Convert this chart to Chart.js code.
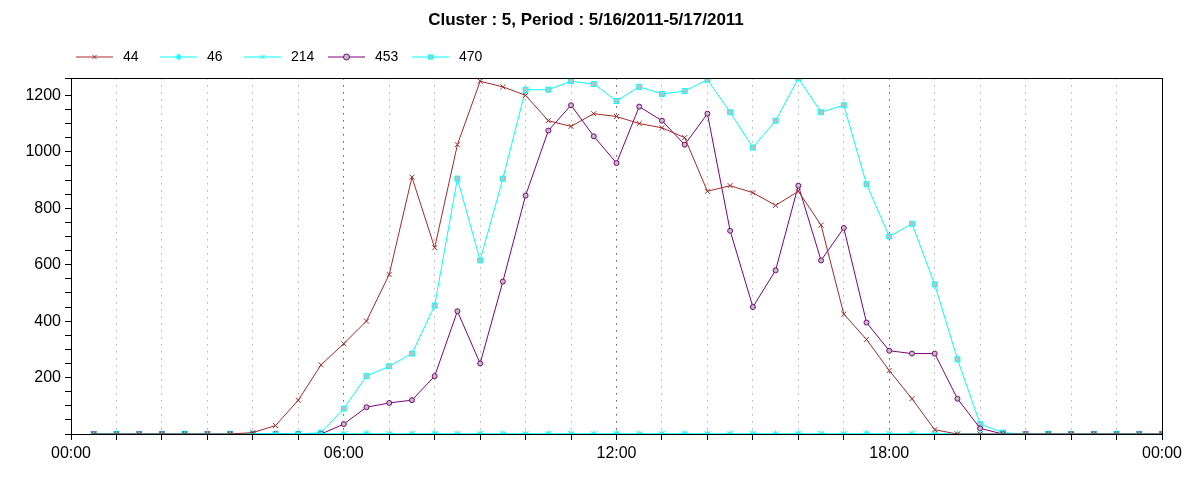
<!DOCTYPE html>
<html><head><meta charset="utf-8">
<script src="https://cdn.jsdelivr.net/npm/chart.js@4"></script>
<style>html,body{margin:0;background:#fff}#w{width:1200px;height:480px}</style>
</head><body><div id="w"><canvas id="c"></canvas></div>
<script>
const times = [];
for (let i = 1; i <= 48; i++) times.push(i * 0.5);
const s44  = [0,0,0,0,0,0,0,5,30,120,245,320,400,565,910,660,1025,1250,1230,1200,1110,1090,1135,1125,1100,1085,1050,860,880,855,810,860,740,425,335,225,125,15,0,0,0,0,0,0,0,0,0,0];
const s46  = new Array(48).fill(0);
const s214 = new Array(48).fill(0);
const s453 = [0,0,0,0,0,0,0,0,0,0,0,35,95,110,120,205,435,250,540,845,1075,1165,1055,960,1160,1110,1025,1135,720,450,580,880,615,730,395,295,285,285,125,20,0,0,0,0,0,0,0,0];
const s470 = [0,0,0,0,0,0,0,0,0,0,5,90,205,240,285,455,905,615,905,1220,1220,1250,1240,1180,1230,1205,1215,1255,1140,1015,1110,1260,1140,1165,885,700,745,530,265,35,5,0,0,0,0,0,0,0];
const names = ['44','46','214','453','470'];
const colors = ['#a52a2a','#00ffff','#00ffff','#800080','#00ffff'];
const styles = ['crossRot','star','crossRot','circle','rect'];
const series = [s44,s46,s214,s453,s470];
const fmt = h => String(h % 24 === 0 && h > 0 ? 0 : h).padStart(2,'0') + ':00';
const FONT = '"Liberation Sans", Arial, sans-serif';

const datasets = series.map((s,k)=>({
  label: names[k],
  data: s.map((v,i)=>({x:times[i], y:v})),
  borderColor: colors[k], borderWidth: 1,
  pointStyle: styles[k], pointRadius: styles[k]==='rect'?3.5:(styles[k]==='circle'?2.5:3.5),
  pointBackgroundColor: (styles[k]==='circle'||styles[k]==='rect')?'#c0c0c0':colors[k],
  pointBorderColor: colors[k], pointBorderWidth: 1, tension: 0
}));

const legend = {id:'lg',afterDraw(chart){
  const ctx=chart.ctx; ctx.save();
  let x=76,y=57;
  ctx.font='14px '+FONT; ctx.textBaseline='middle';
  datasets.forEach((d,k)=>{
    ctx.strokeStyle=colors[k]; ctx.lineWidth=1;
    ctx.beginPath(); ctx.moveTo(x,y); ctx.lineTo(x+37,y); ctx.stroke();
    ctx.fillStyle=d.pointBackgroundColor;
    Chart.helpers.drawPoint(ctx,{pointStyle:styles[k],radius:3,rotation:0,borderWidth:1},x+18.5,y);
    ctx.fillStyle='#000'; ctx.fillText(names[k],x+47,y);
    x+=84;
  });
  ctx.restore();
}};
const frame = {id:'frame',afterDraw(chart){
  const a=chart.chartArea, ctx=chart.ctx;
  ctx.save(); ctx.strokeStyle='#000'; ctx.lineWidth=1;
  ctx.strokeRect(Math.round(a.left)+0.5, Math.round(a.top)+0.5, Math.round(a.right-a.left), Math.round(a.bottom-a.top));
  ctx.restore();
}};

new Chart(document.getElementById('c'), {
  type:'line',
  data:{datasets},
  plugins:[legend, frame],
  options:{
    responsive:true, maintainAspectRatio:false, animation:false,
    layout:{padding:{top:8,right:38,bottom:8,left:10}},
    plugins:{
      legend:{display:false}, tooltip:{enabled:false},
      title:{display:true,text:'Cluster : 5, Period : 5/16/2011-5/17/2011',
        font:{family:FONT,size:17,weight:'bold'},color:'#000',
        padding:{top:2,bottom:48}}
    },
    scales:{
      x:{type:'linear',min:0,max:24,
        afterFit(s){s.height=38;},
        ticks:{stepSize:1,autoSkip:false,maxRotation:0,color:'#000',
          font:{family:FONT,size:16},padding:4,
          callback:v=> v%6===0? fmt(v):''},
        grid:{drawOnChartArea:true,tickLength:6,
          color:c=> c.tick && c.tick.value%6===0 ? '#000':'#888',
          tickColor:'#000', lineWidth:1},
        border:{color:'#000',dash:[1,6]}
      },
      y:{type:'linear',min:0,max:1260,
        afterFit(s){s.width=61;},
        ticks:{stepSize:50,autoSkip:false,color:'#000',
          font:{family:FONT,size:16},padding:4,
          callback:v=> (v%200===0 && v>0)? String(v):''},
        grid:{drawOnChartArea:false,tickLength:6,tickColor:'#000'},
        border:{color:'#000'}
      }
    }
  }
});
</script></body></html>
